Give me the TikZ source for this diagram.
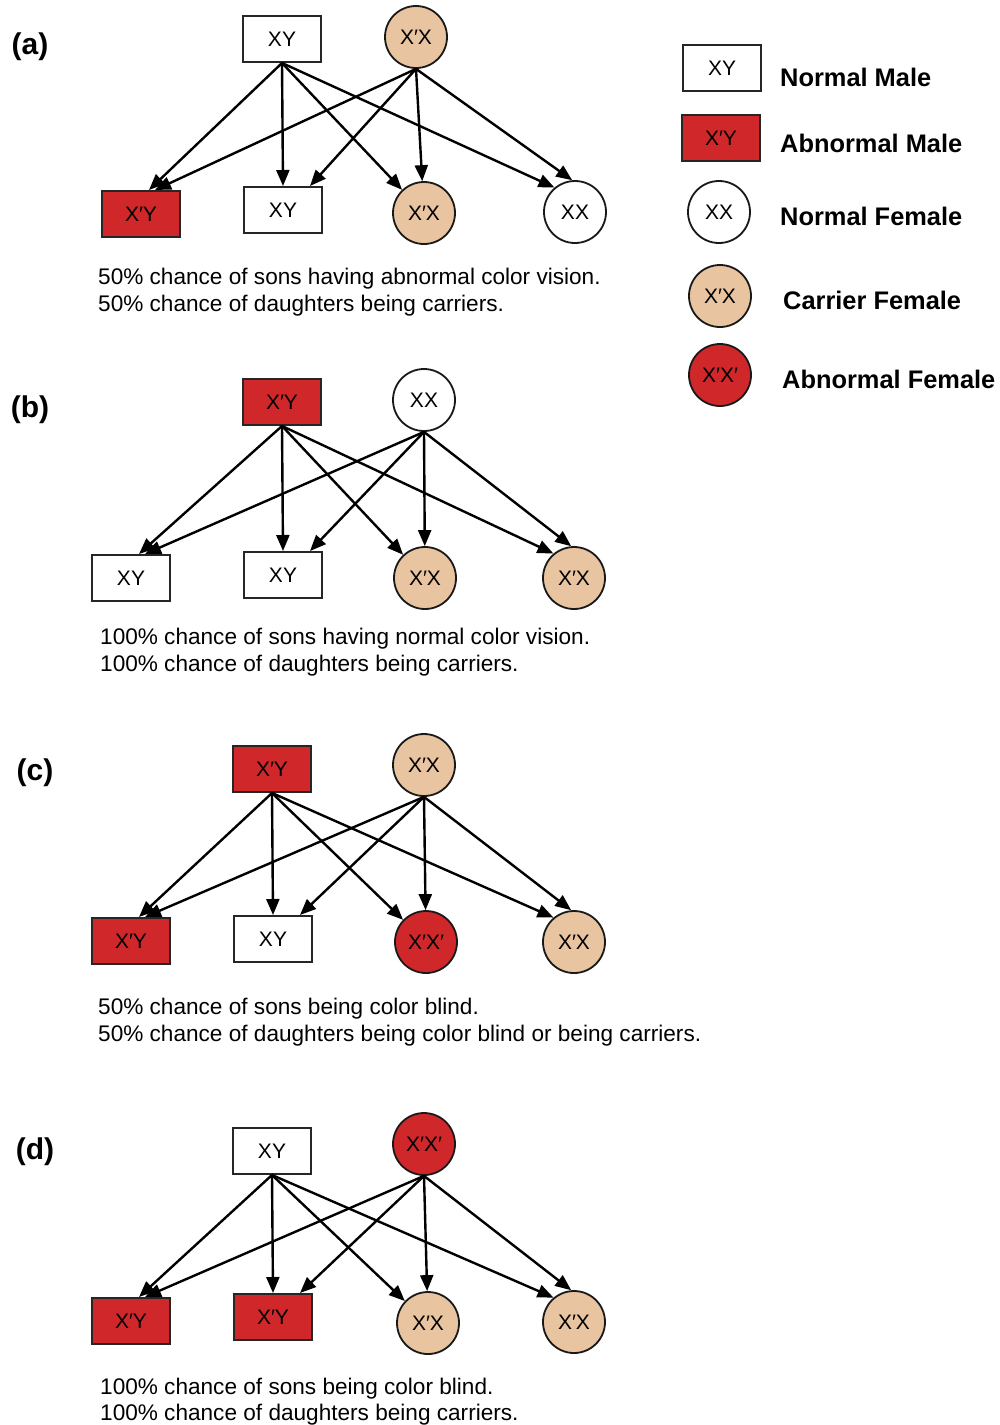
\documentclass[tikz,border=0pt]{standalone}
\usepackage{fontspec}
\setmainfont{Liberation Sans}
\usetikzlibrary{arrows.meta,calc}
\definecolor{abn}{RGB}{208,40,42}
\definecolor{car}{RGB}{233,196,160}
\tikzset{
  male/.style={draw=black!85, line width=2pt, minimum width=78pt, minimum height=46pt, inner sep=0pt, font=\fontsize{21}{25}\selectfont},
  amale/.style={male, fill=abn},
  female/.style={circle, draw=black!90, line width=1.8pt, minimum size=62pt, inner sep=0pt, font=\fontsize{21}{25}\selectfont},
  cfemale/.style={female, fill=car},
  afemale/.style={female, fill=abn},
  arr/.style={line width=2.4pt, -{Triangle[length=16pt,width=13pt]}},
  plabel/.style={font=\bfseries\fontsize{30}{34}\selectfont},
  legtext/.style={font=\bfseries\fontsize{25.4}{30}\selectfont, anchor=west, inner sep=0pt},
  desc/.style={font=\fontsize{22.6}{27}\selectfont, anchor=west, inner sep=0pt}
}
\begin{document}
\begin{tikzpicture}[x=1pt,y=-1pt]
\useasboundingbox[fill=white] (0,0) rectangle (1000,1425);

% panel labels
\node[plabel] (la) at (30,47) {(a)};
\node[plabel] (lb) at (30,410) {(b)};
\node[plabel] (lc) at (35,773) {(c)};
\node[plabel] (ld) at (35,1152) {(d)};

% panel (a)
\node[male] (fa) at (282,39) {XY};
\node[cfemale] (ma) at (416,37) {X′X};
\node[amale] (c1a) at (141,214) {X′Y};
\node[male] (c2a) at (283,210) {XY};
\node[cfemale] (c3a) at (424,213) {X′X};
\node[female] (c4a) at (575,212) {XX};
\node[desc] (ta1) at (98,279) {50\% chance of sons having abnormal color vision.};
\node[desc] (ta2) at (98,306) {50\% chance of daughters being carriers.};

% panel (b)
\node[amale] (fb) at (282,402) {X′Y};
\node[female] (mb) at (424,400) {XX};
\node[male] (c1b) at (131,578) {XY};
\node[male] (c2b) at (283,575) {XY};
\node[cfemale] (c3b) at (425,578) {X′X};
\node[cfemale] (c4b) at (574,578) {X′X};
\node[desc] (tb1) at (100,639) {100\% chance of sons having normal color vision.};
\node[desc] (tb2) at (100,666) {100\% chance of daughters being carriers.};

% panel (c)
\node[amale] (fc) at (272,769) {X′Y};
\node[cfemale] (mc) at (424,765) {X′X};
\node[amale] (c1c) at (131,941) {X′Y};
\node[male] (c2c) at (273,939) {XY};
\node[afemale] (c3c) at (426,942) {X′X′};
\node[cfemale] (c4c) at (574,942) {X′X};
\node[desc] (tc1) at (98,1009) {50\% chance of sons being color blind.};
\node[desc] (tc2) at (98,1036) {50\% chance of daughters being color blind or being carriers.};

% panel (d)
\node[male] (fd) at (272,1151) {XY};
\node[afemale] (md) at (424,1144) {X′X′};
\node[amale] (c1d) at (131,1321) {X′Y};
\node[amale] (c2d) at (273,1317) {X′Y};
\node[cfemale] (c3d) at (428,1323) {X′X};
\node[cfemale] (c4d) at (574,1322) {X′X};
\node[desc] (td1) at (100,1389) {100\% chance of sons being color blind.};
\node[desc] (td2) at (100,1415) {100\% chance of daughters being carriers.};

% connectors
\foreach \p in {a,b,c,d}{
  \draw[arr] (f\p.south) -- ($(c1\p.north)+(8,0)$);
  \draw[arr] (f\p.south) -- (c2\p.north);
  \draw[arr] (f\p.south) -- (c3\p);
  \draw[arr] (f\p.south) -- (c4\p.130);
  \draw[arr] (m\p.south) -- ($(c1\p.north)+(14,0)$);
  \draw[arr] (m\p.south) -- ($(c2\p.north)+(27,0)$);
  \draw[arr] (m\p.south) -- (c3\p);
  \draw[arr] (m\p.south) -- (c4\p.95);
}

% legend
\node[male] (lg1) at (722,68) {XY};
\node[amale] (lg2) at (721,138) {X′Y};
\node[female] (lg3) at (719,212) {XX};
\node[cfemale] (lg4) at (720,296) {X′X};
\node[afemale] (lg5) at (720,375) {X′X′};
\node[legtext] (lt1) at (780,77) {Normal Male};
\node[legtext] (lt2) at (780,143) {Abnormal Male};
\node[legtext] (lt3) at (780,216) {Normal Female};
\node[legtext] (lt4) at (783,300) {Carrier Female};
\node[legtext] (lt5) at (782,379) {Abnormal Female};
\end{tikzpicture}
\end{document}
